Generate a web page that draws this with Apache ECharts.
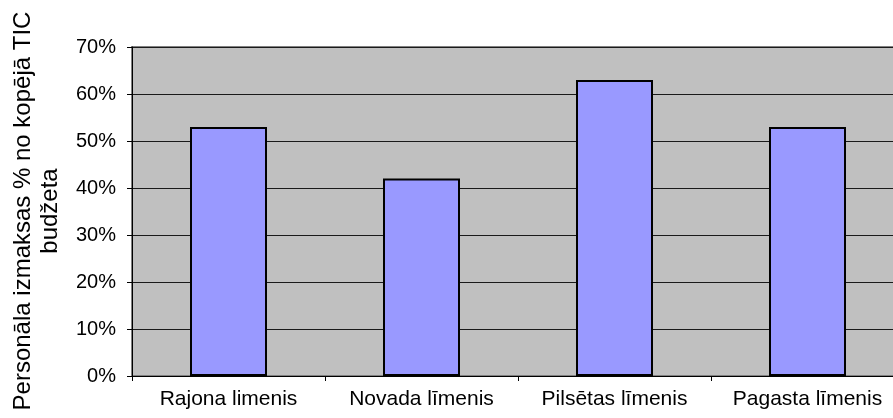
<!DOCTYPE html>
<html>
<head>
<meta charset="utf-8">
<script src="https://cdn.jsdelivr.net/npm/echarts@6/dist/echarts.min.js"></script>
<style>
  html, body { margin: 0; padding: 0; background: #fff; }
  #chart { width: 893px; height: 418px; }
</style>
</head>
<body>
<div id="chart"></div>
<script>
// Personnel costs as a share of the total TIC budget, by administrative level
const categories = ['Rajona limenis', 'Novada līmenis', 'Pilsētas līmenis', 'Pagasta līmenis'];
const shares = [53, 42, 63, 53];
const yTicks = { min: 0, max: 70, step: 10 };
const yTitle = ['Personāla izmaksas % no kopējā TIC', 'budžeta'];

const FONT = '"Liberation Sans", Arial, sans-serif';

const chart = echarts.init(document.getElementById('chart'), null, { renderer: 'canvas' });
chart.setOption({
  animation: false,
  backgroundColor: '#ffffff',
  grid: {
    left: 132, right: -11, top: 47, bottom: 42,
    outerBoundsMode: 'none',
    containLabel: false,
    show: true,
    backgroundColor: '#C0C0C0',
    borderColor: '#808080',
    borderWidth: 2
  },
  xAxis: {
    type: 'category',
    data: categories,
    boundaryGap: true,
    axisLine: { lineStyle: { color: '#000', width: 1 } },
    axisTick: { show: true, alignWithLabel: false, length: 5, lineStyle: { color: '#000' } },
    axisLabel: { color: '#000', fontFamily: FONT, fontSize: 21, margin: 13, interval: 0 },
    splitLine: { show: false }
  },
  yAxis: {
    type: 'value',
    min: yTicks.min,
    max: yTicks.max,
    interval: yTicks.step,
    axisLine: { show: true, lineStyle: { color: '#000', width: 1 } },
    axisTick: { show: true, length: 5, lineStyle: { color: '#000' } },
    axisLabel: { color: '#000', fontFamily: FONT, fontSize: 20, margin: 16, formatter: '{value}%' },
    splitLine: { show: true, lineStyle: { color: '#1a1a1a', width: 1 } }
  },
  graphic: [{
    type: 'text',
    x: 37,
    y: 211,
    rotation: Math.PI / 2,
    style: {
      text: yTitle.join('\n'),
      font: '24px ' + FONT,
      fill: '#000',
      textAlign: 'center',
      textVerticalAlign: 'middle',
      lineHeight: 27
    }
  }],
  series: [{
    type: 'bar',
    data: shares,
    barWidth: 77,
    itemStyle: { color: '#9999FF', borderColor: '#000', borderWidth: 2 }
  }]
});
</script>
</body>
</html>
